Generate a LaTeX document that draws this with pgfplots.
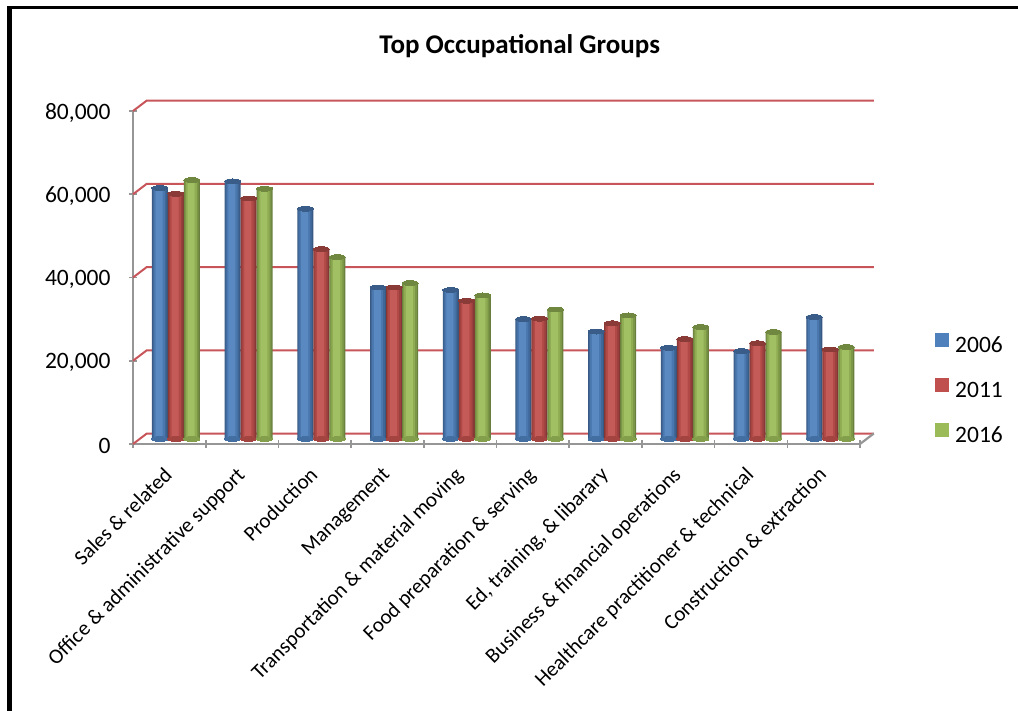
\documentclass[border=0pt]{standalone}
\usepackage{pgfplots}
\pgfplotsset{compat=1.18}
\usepackage{pgfplotstable}
\usepackage{fontspec}
\setmainfont{Carlito}
\definecolor{cb}{HTML}{4F81BD}
\definecolor{cr}{HTML}{C0504D}
\definecolor{cg}{HTML}{9BBB59}
\definecolor{gridred}{HTML}{C8555A}
\definecolor{ax}{HTML}{969696}
\pgfplotstableread{
xa xb xc a b c
0.371 0.591 0.811 60300 58900 62200
1.371 1.591 1.811 61900 57800 60100
2.371 2.591 2.811 55300 45600 43700
3.371 3.591 3.811 36400 36400 37450
4.371 4.591 4.811 35800 33200 34500
5.371 5.591 5.811 28800 28900 31100
6.371 6.591 6.811 25800 27800 29700
7.371 7.591 7.811 21900 24000 26900
8.371 8.591 8.811 21100 23000 25700
9.371 9.591 9.811 29300 21500 22100
}\data
\pgfplotsset{
 strip/.style n args={3}{ybar,bar width=#2,bar shift=#3,yshift=5pt,draw=none,fill=#1},
 cap/.style={only marks,mark=*,mark size=8pt,yshift=5pt,mark options={yscale=.3,draw=#1,fill=#1,line width=0pt},forget plot},
}
\newcommand\cylinder[3]{%
 \addplot[strip={#1!68!black}{16pt}{0pt},legend image code/.code={\fill[#1] (0pt,-7pt) rectangle (14pt,7pt);\path (18pt,0pt);}] table[x=#2,y=#3]{\data};
 \addplot[strip={#1!80!black}{14pt}{-0.3pt},forget plot] table[x=#2,y=#3]{\data};
 \addplot[strip={#1!92!black}{11pt}{-0.6pt},forget plot] table[x=#2,y=#3]{\data};
 \addplot[strip={#1!94!white}{7pt}{-0.8pt},forget plot] table[x=#2,y=#3]{\data};
 \addplot[cap=#1!72!black] table[x=#2,y=#3]{\data};
}
\begin{document}
\begin{tikzpicture}[x=1pt,y=1pt]
\useasboundingbox (0,0) rectangle (1018,711);
\fill[black] (7,0) rectangle (12,705);
\fill[black] (7,702) rectangle (1018,705);
\begin{axis}[
 at={(133pt,267pt)},anchor=south west,
 scale only axis,width=727pt,height=333pt,
 xmin=0,xmax=10,ymin=0,ymax=80000,
 clip=false,
 axis x line=bottom,axis y line=left,
 axis line style={ax,line width=2.2pt,-},
 ytick={0,20000,40000,60000,80000},
 yticklabel style={font=\fontsize{23.5}{24}\selectfont,xshift=-15pt,yshift=-2pt,/pgf/number format/assume math mode=true,/pgf/number format/fixed,/pgf/number format/1000 sep={,}},
 scaled y ticks=false,
 ytick style={ax,line width=1.6pt},
 major tick length=8pt,
 xtick={0.5,1.5,2.5,3.5,4.5,5.5,6.5,7.5,8.5,9.5},
 minor xtick={0,1,...,10},
 xticklabels={Sales \& related,Office \& administrative support,Production,Management,Transportation \& material moving,Food preparation \& serving,{Ed, training, \& libarary},Business \& financial operations,Healthcare practitioner \& technical,Construction \& extraction},
 xticklabel style={font=\fontsize{21.1}{22}\selectfont,rotate=45,anchor=north east,inner sep=1pt,xshift=-16pt,yshift=-6.8pt},
 x tick style={draw=none},
 minor x tick style={draw=ax,line width=1.6pt},
 minor tick length=8pt,
 title={\bfseries Top Occupational Groups},
 title style={at={(0.532,1.177)},anchor=center,font=\fontsize{27}{28}\selectfont},
 legend style={draw=none,fill=none,font=\fontsize{23.5}{24}\selectfont,row sep=22.5pt,inner sep=0pt},
 legend cell align=left,
 every axis legend/.append style={at={(1.1032,-0.006)},anchor=south west},
]
\pgfplotsinvokeforeach{0,20000,40000,60000,80000}{
 \addplot[gridred,line width=2pt,forget plot] coordinates {(0,#1) (0.19,#1+2520) (10.19,#1+2520)};
}
\addplot[ax,line width=2.2pt,forget plot] coordinates {(10,0) (10.19,2520)};
\addplot[cap=cb!85!black] table[x=xa,y expr=0]{\data};
\addplot[cap=cr!85!black] table[x=xb,y expr=0]{\data};
\addplot[cap=cg!85!black] table[x=xc,y expr=0]{\data};
\cylinder{cb}{xa}{a}
\cylinder{cr}{xb}{b}
\cylinder{cg}{xc}{c}
\legend{2006,2011,2016}
\end{axis}
\end{tikzpicture}
\end{document}
